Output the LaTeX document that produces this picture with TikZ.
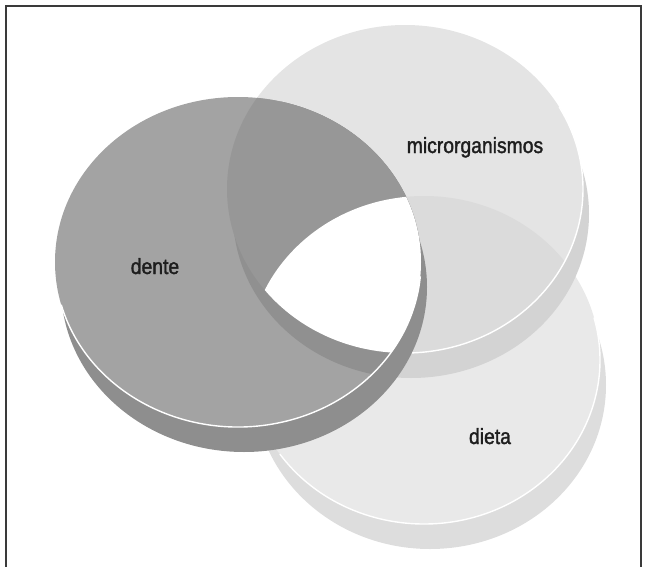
\documentclass[tikz,border=0pt]{standalone}
\usepackage{fontspec}
\setmainfont{Liberation Sans}[FakeStretch=0.88, FakeBold=1.6]
\definecolor{denteface}{HTML}{A3A3A3}
\definecolor{denteside}{HTML}{8E8E8E}
\definecolor{denteover}{HTML}{979797}
\definecolor{denteband}{HTML}{909090}
\definecolor{microface}{HTML}{E4E4E4}
\definecolor{microside}{HTML}{D3D3D3}
\definecolor{microover}{HTML}{DBDBDB}
\definecolor{dietaface}{HTML}{E9E9E9}
\definecolor{dietaside}{HTML}{DDDDDD}
\definecolor{framegray}{HTML}{3A3A3A}
\definecolor{textgray}{HTML}{1E1E1E}
\begin{document}
\begin{tikzpicture}[x=0.02cm, y=0.02cm,
        lbl/.style={text=textgray, font=\fontsize{12.5}{15}\selectfont, inner sep=0pt, anchor=base},
        rimshift/.style={shift={(6,-25)}},
        dentesize/.style={x radius=183, y radius=165},
        microsize/.style={x radius=178, y radius=164},
        dietasize/.style={x radius=176, y radius=164},
        shine/.style={draw=white, line width=0.8pt}]
        \useasboundingbox (0,0) rectangle (646,566);
        \coordinate (dente) at (238,304);
        \coordinate (micro) at (405,377);
        \coordinate (dieta) at (424,206);

        \draw[framegray, line width=1.1pt] (6,-5) -- (6,560) -- (641,560) -- (641,-5);

        \fill[dietaside] ([rimshift]dieta) ellipse[dietasize];
        \fill[dietaface] (dieta) ellipse[dietasize];
        \draw[shine] ([shift={(215:176 and 164)}]dieta) arc[start angle=215, end angle=375, dietasize];

        \fill[microside] ([rimshift]micro) ellipse[microsize];
        \fill[microface] (micro) ellipse[microsize];
        \begin{scope}
            \clip (micro) ellipse[microsize];
            \fill[microover] (dieta) ellipse[dietasize];
        \end{scope}
        \draw[shine] ([shift={(-95:178 and 164)}]micro) arc[start angle=-95, end angle=30, microsize];

        \fill[denteside] ([rimshift]dente) ellipse[dentesize];
        \fill[denteface] (dente) ellipse[dentesize];
        \begin{scope}
            \clip (dente) ellipse[dentesize];
            \fill[denteband] ([rimshift]micro) ellipse[microsize];
            \fill[denteover] (micro) ellipse[microsize];
            \clip (micro) ellipse[microsize];
            \fill[white] (dieta) ellipse[dietasize];
        \end{scope}
        \draw[shine] ([shift={(195:183 and 165)}]dente) arc[start angle=195, end angle=355, dentesize];

        \path (475,413) node[lbl] (microlbl) {microrganismos};
        \path (155,292) node[lbl] (dentelbl) {dente};
        \path (490,122) node[lbl] (dietalbl) {dieta};
\end{tikzpicture}
\end{document}
